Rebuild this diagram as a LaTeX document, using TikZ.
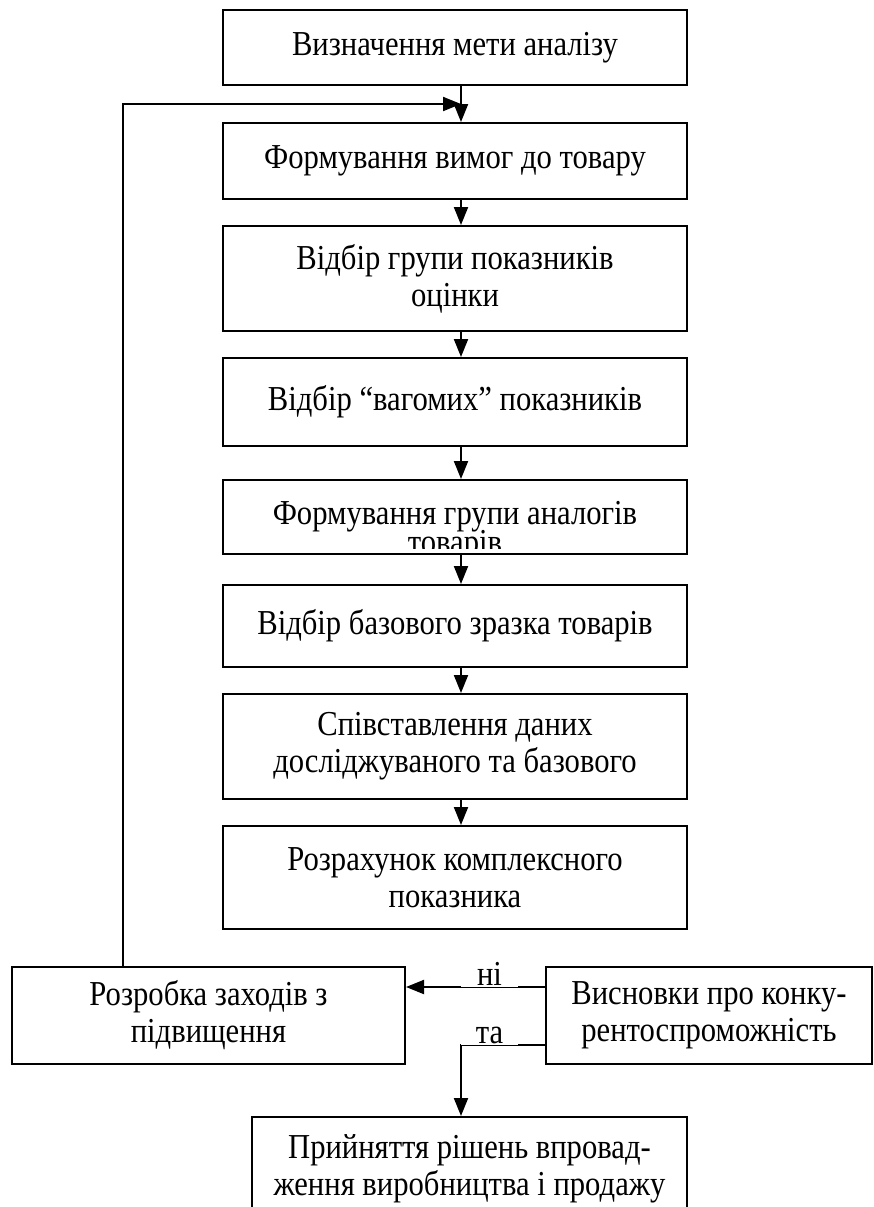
\documentclass[tikz,border=0pt]{standalone}
\usepackage{fontspec}
\setmainfont{Liberation Serif}[FakeStretch=0.875]
\usetikzlibrary{positioning,arrows.meta,calc}

\begin{document}
\begin{tikzpicture}[
  x=0.5pt, y=-0.5pt,
  font=\fontsize{17.5}{18.5}\selectfont, >={Triangle[length=9pt,width=7pt]},
  box/.style={draw,line width=1pt,align=center,minimum width=232pt,inner sep=2pt},
  side/.style={box,minimum height=48.5pt},
  tag/.style={fill=white,inner sep=1pt,minimum width=28.5pt},
  flow/.style={->,line width=1pt},
]
\useasboundingbox (0,0) rectangle (874,1207);
% main column
\node[box,minimum height=37.5pt] (b1) at (455,47.5)  {Визначення мети аналізу};
\node[box,minimum height=38pt]   (b2) at (455,161)   {Формування вимог до товару};
\node[box,minimum height=52.5pt] (b3) at (455,278.5) {Відбір групи показників\\оцінки};
\node[box,minimum height=44pt]   (b4) at (455,402)   {Відбір “вагомих” показників};
\node[box,minimum height=37pt]   (b5) at (455,517)   {};
\begin{scope}
\clip ([yshift=3.5pt]b5.south west) rectangle (b5.north east);
\node[anchor=north,inner sep=0pt,align=center] (b5txt) at ([yshift=-11pt]b5.north)
  {Формування групи аналогів\\[-4pt]товарів};
\end{scope}
\node[box,minimum height=41pt]   (b6) at (455,626)   {Відбір базового зразка товарів};
\node[box,minimum height=52.5pt] (b7) at (455,746.5) {Співставлення даних\\досліджуваного та базового};
\node[box,minimum height=51.5pt] (b8) at (455,877.5) {Розрахунок комплексного\\показника};
% bottom row
\node[side,minimum width=196.5pt] (impr)  at (208.5,1015.5) {Розробка заходів з\\підвищення};
\node[side,minimum width=163pt]   (concl) at (709,1015.5)   {Висновки про конку-\\рентоспроможність};
\node[box,minimum width=217.5pt,minimum height=51.5pt] (decis) at (469.5,1168.5)
  {Прийняття рішень впровад-\\ження виробництва і продажу};
% connectors
\coordinate (ax) at (461,0);
\coordinate (lbx) at (489.5,0);
\coordinate (feed) at (123,104);
\coordinate (merge) at (461,104);
\foreach \a/\b in {b1/b2,b2/b3,b3/b4,b4/b5,b5/b6,b6/b7,b7/b8}
  \draw[flow] (\a.south -| ax) -- (\b.north -| ax);
\draw[flow] (impr.north -| feed) -- (feed) -- (merge);
\coordinate (noy) at ([yshift=14.25pt]concl.west);
\coordinate (yesy) at ([yshift=-14.75pt]concl.west);
\draw[flow] (noy) -- (noy -| impr.east);
\draw[flow] (yesy) -| (decis.north -| ax);
\path (noy -| lbx) ++(0,1.2) node[tag,anchor=south] (no) {ні};
\draw[thin] (no.west |- noy) -- (no.east |- noy);
\path (yesy -| lbx) ++(0,1.2) node[tag,anchor=south] (yes) {та};
\draw[thin] (yes.west |- yesy) -- (yes.east |- yesy);
\end{tikzpicture}
\end{document}
